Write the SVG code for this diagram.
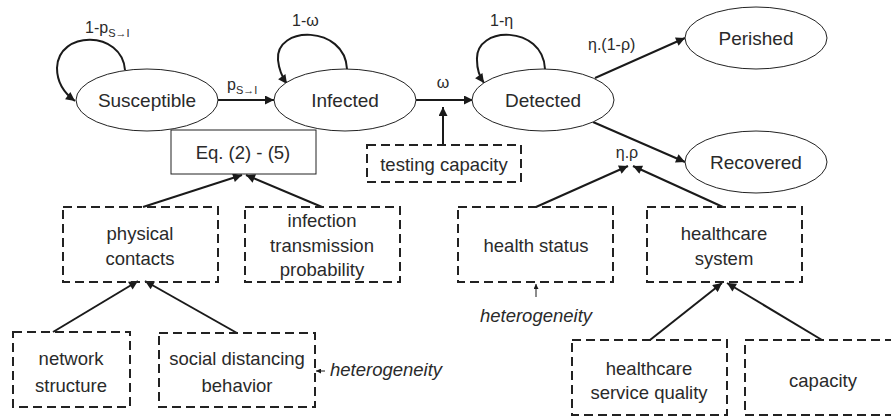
<svg xmlns="http://www.w3.org/2000/svg" width="891" height="418" viewBox="0 0 891 418">
<defs>
<marker id="ah" viewBox="0 0 10 10" refX="10" refY="5" markerWidth="11" markerHeight="9" markerUnits="userSpaceOnUse" orient="auto"><path d="M0,0 L10,5 L0,10 z" fill="#1a1a1a"/></marker>
<marker id="ahs" viewBox="0 0 10 10" refX="10" refY="5" markerWidth="6" markerHeight="5" markerUnits="userSpaceOnUse" orient="auto"><path d="M0,0 L10,5 L0,10 z" fill="#1a1a1a"/></marker>
<style>
text{font-family:"Liberation Sans",Arial,sans-serif;fill:#2a2a2a}
.st ellipse{fill:#fff;stroke:#222;stroke-width:1}
.st text{font-size:19px;text-anchor:middle}
.db rect{fill:none;stroke:#222;stroke-width:2;stroke-dasharray:9 5}
.db text{font-size:18.5px;text-anchor:middle}
.lbl{font-size:16px}
.sub{font-size:11px}
.it{font-style:italic;font-size:18.5px}
.c path,.c line{fill:none;stroke:#1a1a1a;stroke-width:2}
.c .thin{stroke-width:1}
</style>
</defs>

<g id="connectors" class="c">
<path d="M125,70 C122,30 58,30 57,68 C57,82 64,93 75,101" marker-end="url(#ah)"/>
<path d="M347,69 C345,25 275,25 278,60 C279,70 282,77 287,84" marker-end="url(#ah)"/>
<path d="M545,69 C543,25 475,25 477,60 C477,70 479,76 484,83" marker-end="url(#ah)"/>
<line x1="218" y1="100" x2="274" y2="100" marker-end="url(#ah)"/>
<line x1="416" y1="100" x2="473" y2="100" marker-end="url(#ah)"/>
<line x1="443" y1="145" x2="443" y2="107" marker-end="url(#ah)"/>
<line x1="595" y1="78" x2="685" y2="38" marker-end="url(#ah)"/>
<line x1="593" y1="122" x2="685" y2="162" marker-end="url(#ah)"/>
<line x1="143" y1="207" x2="242" y2="175" marker-end="url(#ah)"/>
<line x1="322" y1="207" x2="246" y2="175" marker-end="url(#ah)"/>
<line x1="53" y1="332" x2="138" y2="281" marker-end="url(#ah)"/>
<line x1="237" y1="333" x2="145" y2="281" marker-end="url(#ah)"/>
<line x1="536" y1="207" x2="628" y2="166" marker-end="url(#ah)"/>
<line x1="723" y1="207" x2="633" y2="166" marker-end="url(#ah)"/>
<line x1="650" y1="340" x2="722" y2="283" marker-end="url(#ah)"/>
<line x1="822" y1="340" x2="727" y2="283" marker-end="url(#ah)"/>
<line class="thin" x1="325" y1="371" x2="316" y2="371" marker-end="url(#ahs)"/>
<line class="thin" x1="536" y1="297" x2="536" y2="284" marker-end="url(#ahs)"/>
</g>

<g id="labels">
<text class="lbl" x="85" y="33">1-p<tspan class="sub" dy="4">S→I</tspan></text>
<text class="lbl" x="227" y="90">p<tspan class="sub" dy="4">S→I</tspan></text>
<text class="lbl" x="292" y="26">1-ω</text>
<text class="lbl" x="443" y="88" text-anchor="middle">ω</text>
<text class="lbl" x="490" y="26">1-η</text>
<text class="lbl" x="588" y="50">η.(1-ρ)</text>
<text class="lbl" x="627" y="158" text-anchor="middle">η.ρ</text>
<text class="it" x="330" y="376">heterogeneity</text>
<text class="it" x="536" y="322" text-anchor="middle">heterogeneity</text>
</g>

<g id="susceptible" class="st"><ellipse cx="147" cy="100" rx="71" ry="31"/><text x="147" y="107">Susceptible</text></g>
<g id="infected" class="st"><ellipse cx="345" cy="100" rx="71" ry="31"/><text x="345" y="107">Infected</text></g>
<g id="detected" class="st"><ellipse cx="543" cy="100" rx="71" ry="31"/><text x="543" y="107">Detected</text></g>
<g id="perished" class="st"><ellipse cx="756" cy="38" rx="71" ry="31"/><text x="756" y="45">Perished</text></g>
<g id="recovered" class="st"><ellipse cx="756" cy="162" rx="71" ry="31"/><text x="756" y="169">Recovered</text></g>

<g id="eq"><rect x="171" y="130" width="145" height="44" fill="#fff" stroke="#222" stroke-width="1"/><text x="243" y="159" font-size="18.5" text-anchor="middle">Eq. (2) - (5)</text></g>

<g id="testing" class="db"><rect x="367" y="145" width="154" height="37"/><text x="444" y="171">testing capacity</text></g>
<g id="physical" class="db"><rect x="63" y="207" width="155" height="75"/><text x="140" y="240">physical</text><text x="140" y="265">contacts</text></g>
<g id="infection" class="db"><rect x="245" y="207" width="155" height="75"/><text x="322" y="227">infection</text><text x="322" y="252">transmission</text><text x="322" y="276">probability</text></g>
<g id="network" class="db"><rect x="13" y="332" width="117" height="75"/><text x="71" y="365">network</text><text x="71" y="392">structure</text></g>
<g id="social" class="db"><rect x="159" y="333" width="156" height="74"/><text x="237" y="365">social distancing</text><text x="237" y="392">behavior</text></g>
<g id="health" class="db"><rect x="458" y="207" width="155" height="75"/><text x="536" y="252">health status</text></g>
<g id="hsystem" class="db"><rect x="647" y="207" width="155" height="75"/><text x="724" y="240">healthcare</text><text x="724" y="265">system</text></g>
<g id="hsq" class="db"><rect x="572" y="340" width="155" height="75"/><text x="649" y="375">healthcare</text><text x="649" y="399">service quality</text></g>
<g id="capacity" class="db"><rect x="745" y="340" width="156" height="75"/><text x="823" y="387">capacity</text></g>
</svg>
